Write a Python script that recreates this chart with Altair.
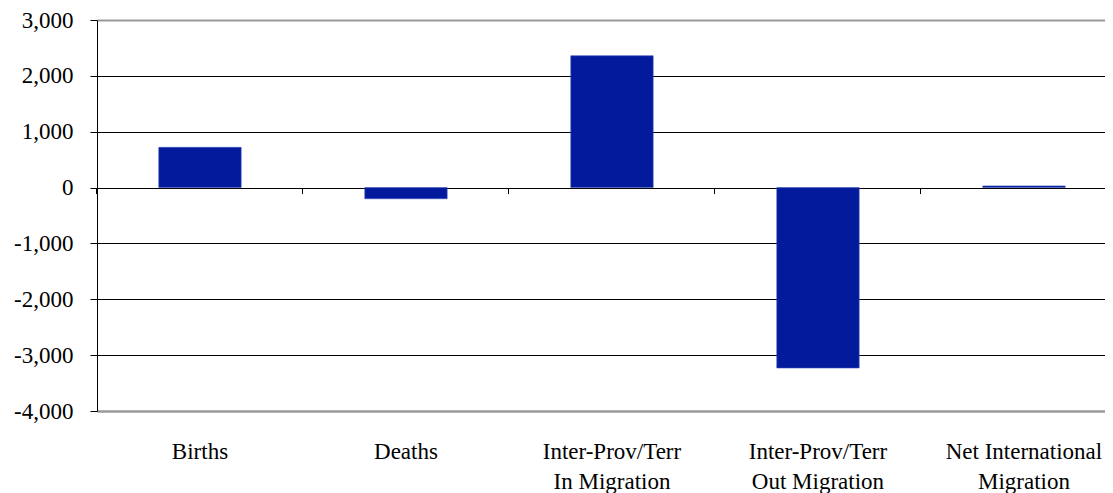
import altair as alt
import pandas as pd

categories = [
    "Births",
    "Deaths",
    "Inter-Prov/Terr\nIn Migration",
    "Inter-Prov/Terr\nOut Migration",
    "Net International\nMigration",
]
values = [720, -200, 2360, -3230, 30]
y_ticks = [-4000, -3000, -2000, -1000, 0, 1000, 2000, 3000]

df = pd.DataFrame({"component": categories, "value": values})

Y_MIN, Y_MAX = y_ticks[0], y_ticks[-1]
W, H = 1008, 391
zero_offset = -H * (0 - Y_MIN) / (Y_MAX - Y_MIN)

FONT = "Liberation Serif"
FS = 23
P_IN = 0.6
xscale = alt.Scale(paddingInner=P_IN, paddingOuter=0.2466, align=0.608)
yscale = alt.Scale(domain=[Y_MIN, Y_MAX], nice=False, zero=False)

bars = alt.Chart(df).mark_bar(color="#031a9c", stroke="#3a50b8", strokeWidth=0.6).encode(
    x=alt.X(
        "component:N",
        sort=categories,
        scale=xscale,
        axis=alt.Axis(
            title=None, labelAngle=0, ticks=False, grid=False,
            domainColor="#999999", domainWidth=2,
            labelFont=FONT, labelFontSize=FS, labelColor="black",
            labelPadding=29, labelLineHeight=30,
            labelExpr="split(datum.label, '\\n')",
        ),
    ),
    y=alt.Y(
        "value:Q",
        scale=yscale,
        axis=alt.Axis(
            title=None, values=y_ticks,
            labelExpr="(datum.value < 0 ? '-' : '') + format(abs(datum.value), ',')",
            labelFont=FONT, labelFontSize=FS, labelColor="black",
            labelPadding=17, tickSize=7, tickColor="black",
            domainColor="black", domainWidth=1,
            grid=True,
            gridColor={"condition": {"test": "datum.value == 3000 || datum.value == -4000", "value": "#999999"}, "value": "black"},
            gridWidth={"condition": {"test": "datum.value == 3000 || datum.value == -4000", "value": 2}, "value": 1},
        ),
    ),
)

zero_ticks = alt.Chart(df).mark_bar(opacity=0).encode(
    x=alt.X(
        "component:N",
        sort=categories,
        scale=xscale,
        axis=alt.Axis(
            orient="bottom", offset=zero_offset, labels=False, domain=False,
            grid=False, ticks=True, bandPosition=-P_IN / 2 / (1 - P_IN),
            tickSize=6, tickColor="black", tickWidth=1, title=None,
        ),
    ),
    y=alt.Y("value:Q", scale=yscale, axis=None),
)

chart = (
    alt.layer(bars, zero_ticks)
    .resolve_axis(x="independent", y="independent")
    .properties(
        width=W, height=H,
        autosize=alt.AutoSizeParams(type="none"),
        padding={"left": 89, "top": 12, "right": 0, "bottom": 82},
    )
    .configure_view(strokeWidth=0)
    .configure(background="white")
)

chart.save("out.html", embed_options={"renderer": "svg", "actions": False})
